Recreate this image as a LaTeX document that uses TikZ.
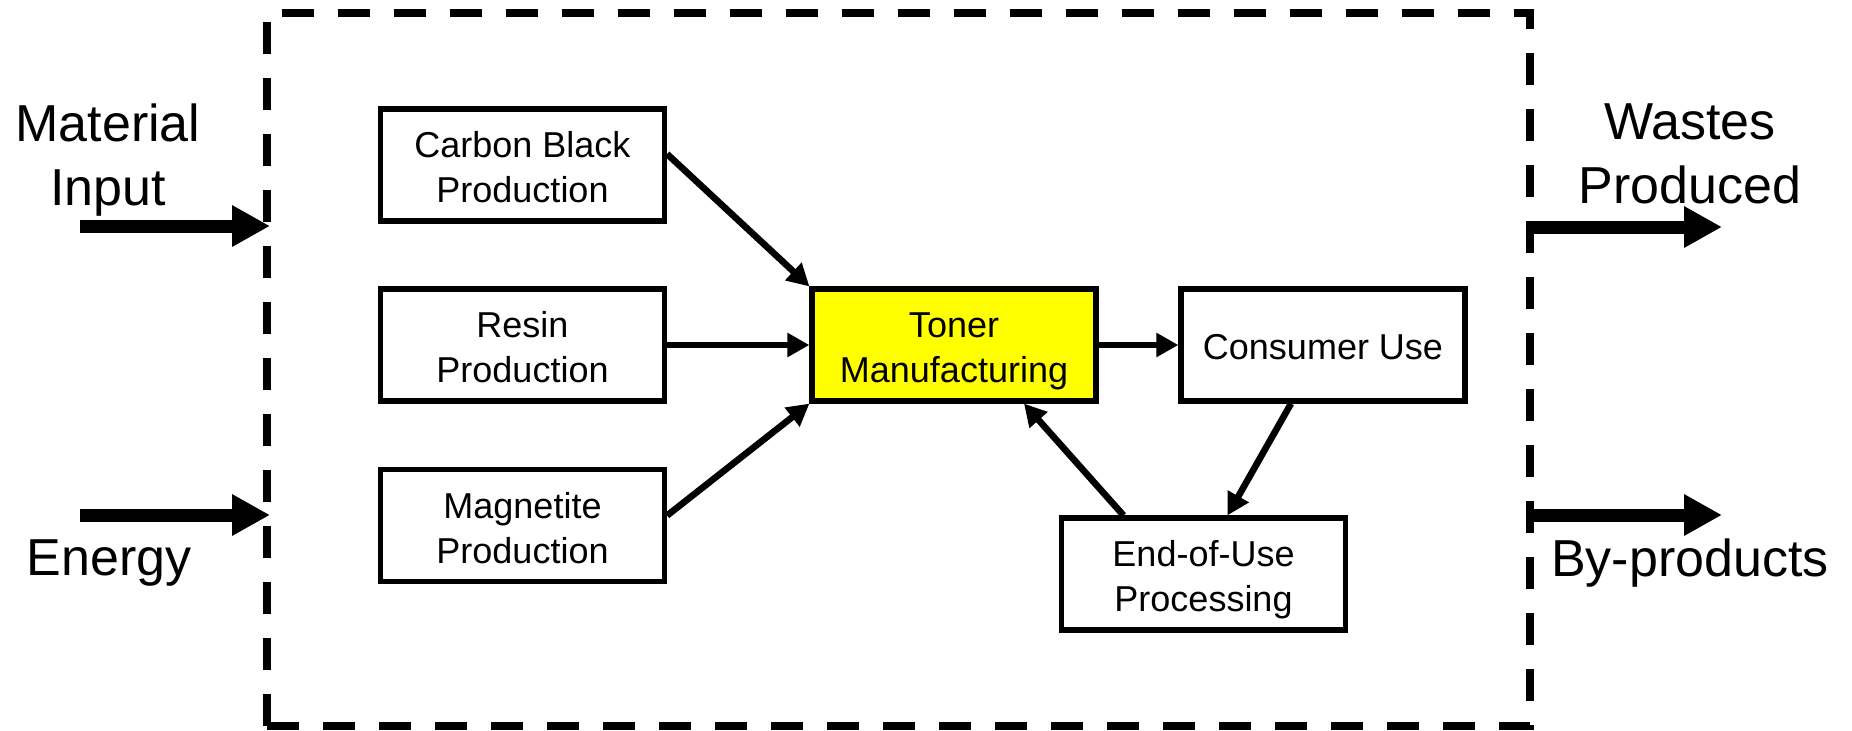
\documentclass[tikz,border=0pt]{standalone}
\usepackage{fontspec}
\setmainfont{Liberation Sans}
\usetikzlibrary{arrows.meta,calc}

\tikzset{
  procbox/.style={draw=black, line width=2.6pt, fill=white,
    minimum width=142pt, minimum height=56pt, inner sep=0pt,
    align=center, font=\fontsize{18pt}{22.5pt}\selectfont,
    text height=40pt, text depth=2.5pt},
  oneline/.style={text height=17pt},
  flow/.style={line width=3.3pt, -{Triangle[length=11pt,width=11.5pt]}},
  bigflow/.style={line width=6.5pt, -{Triangle[length=19pt,width=19.5pt]}},
  biglabel/.style={inner sep=0pt, align=center, font=\fontsize{26pt}{32pt}\selectfont},
  boundary/.style={line width=3.9pt, dash pattern=on 16pt off 12pt}
}

\begin{document}
\begin{tikzpicture}[x=0.5pt,y=-0.5pt]
  \useasboundingbox (0,0) rectangle (1852,730);

  % system boundary, traced clockwise from the lower left corner
  \draw[boundary] (267,726) -- (267,13) -- (1530,13) -- (1530,726) -- cycle;

  % process boxes
  \node[procbox] (carbon) at (522.5,165) {Carbon Black\\Production};
  \node[procbox] (resin) at (522.5,345) {Resin\\Production};
  \node[procbox] (magnetite) at (522.5,525.5) {Magnetite\\Production};
  \node[procbox, fill={rgb,255:red,255;green,255;blue,0}] (toner) at (954,345) {Toner\\Manufacturing};
  \node[procbox, oneline] (consumer) at (1323,345) {Consumer Use};
  \node[procbox] (eou) at (1203.5,574) {End-of-Use\\Processing};

  % flows between processes
  \draw[flow] ([yshift=5.5pt]carbon.east) -- (toner.north west);
  \draw[flow] (resin.east) -- (toner.west);
  \draw[flow] ([yshift=5pt]magnetite.east) -- (toner.south west);
  \draw[flow] (toner.east) -- (consumer.west);
  \draw[flow] ([xshift=-16pt]consumer.south) -- ([xshift=12pt]eou.north);
  \draw[flow] ([xshift=-40pt]eou.north) -- ([xshift=35pt]toner.south);

  % inputs and outputs across the boundary
  \coordinate (matfrom) at (80,226);
  \coordinate (matto) at (270,226);
  \coordinate (enfrom) at (80,515);
  \coordinate (ento) at (270,515);
  \coordinate (wastefrom) at (1527,227);
  \coordinate (wasteto) at (1722,227);
  \coordinate (byfrom) at (1527,515);
  \coordinate (byto) at (1722,515);

  \draw[bigflow] (matfrom) -- (matto);
  \draw[bigflow] (enfrom) -- (ento);
  \draw[bigflow] (wastefrom) -- (wasteto);
  \draw[bigflow] (byfrom) -- (byto);

  \node[biglabel] (matlabel) at (108,160) {Material\\Input};
  \node[biglabel] (enlabel) at (109,563) {Energy};
  \node[biglabel] (wastelabel) at (1690,154) {Wastes\\Produced};
  \node[biglabel] (bylabel) at (1690,563) {By-products};
\end{tikzpicture}
\end{document}
